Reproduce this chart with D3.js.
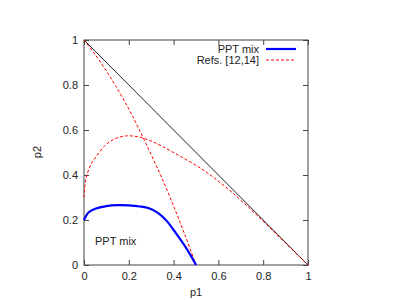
<!DOCTYPE html>
<html>
<head>
<meta charset="utf-8">
<style>
  body { margin: 0; background: white; }
  svg { display: block; font-family: "Liberation Sans", Arial, Helvetica, sans-serif; }
  .tick text { font-size: 11px; fill: #222; }
</style>
<script src="https://cdn.jsdelivr.net/npm/d3@7"></script>
</head>
<body>
<svg id="chart"></svg>
<script>
// values, [p1, p2]
let pptMix = [[0, 0.2], [0.02, 0.233], [0.05, 0.25], [0.1, 0.262], [0.15, 0.266], [0.2, 0.265],
              [0.25, 0.26], [0.29, 0.252], [0.33, 0.232], [0.37, 0.195], [0.41, 0.142],
              [0.45, 0.085], [0.48, 0.036], [0.5, 0]]
let refsA = [[0, 1], [0.05, 0.935], [0.1, 0.862], [0.14, 0.798], [0.2, 0.693], [0.244, 0.607],
             [0.3, 0.49], [0.347, 0.388], [0.4, 0.262], [0.45, 0.135], [0.5, 0]]
let refsB = [[0, 0.3], [0.005, 0.36], [0.013, 0.4], [0.03, 0.445], [0.05, 0.476], [0.095, 0.532],
             [0.14, 0.562], [0.19, 0.574], [0.25, 0.568], [0.3, 0.551], [0.35, 0.527],
             [0.43, 0.483], [0.518, 0.432], [0.577, 0.39], [0.65, 0.332], [0.726, 0.264],
             [0.816, 0.179], [0.9, 0.097], [1, 0]]
let diagonal = [[0, 1], [1, 0]]
let tickValues = [0, 0.2, 0.4, 0.6, 0.8, 1]
let legendLabels = ["PPT mix", "Refs. [12,14]"]

let width = 406, height = 300
let mLeft = 84, mRight = 308, mTop = 40, mBottom = 265

let svg = d3.select("#chart").attr("width", width).attr("height", height)

let x = d3.scaleLinear().domain([0, 1]).range([mLeft, mRight])
let y = d3.scaleLinear().domain([0, 1]).range([mBottom, mTop])
let fmt = d => d === 0 || d === 1 ? String(d) : d3.format(".1f")(d)

// axes with inward ticks
svg.append("g").attr("transform", `translate(0,${mBottom})`)
    .call(d3.axisBottom(x).tickValues(tickValues).tickFormat(fmt).tickSizeInner(-5).tickSizeOuter(0).tickPadding(7))
svg.append("g").attr("transform", `translate(${mLeft},0)`)
    .call(d3.axisLeft(y).tickValues(tickValues).tickFormat(fmt).tickSizeInner(-5).tickSizeOuter(0).tickPadding(6))
svg.append("g").attr("transform", `translate(0,${mTop})`)
    .call(d3.axisTop(x).tickValues(tickValues).tickFormat("").tickSizeInner(-5).tickSizeOuter(0))
svg.append("g").attr("transform", `translate(${mRight},0)`)
    .call(d3.axisRight(y).tickValues(tickValues).tickFormat("").tickSizeInner(-5).tickSizeOuter(0))
svg.selectAll(".domain").remove()
svg.selectAll(".tick line").attr("stroke", "#444")

svg.append("rect")
    .attr("x", mLeft).attr("y", mTop)
    .attr("width", mRight - mLeft).attr("height", mBottom - mTop)
    .attr("fill", "none").attr("stroke", "#444").attr("stroke-width", 1)

let line = d3.line().x(d => x(d[0])).y(d => y(d[1])).curve(d3.curveCatmullRom.alpha(0.5))

svg.append("path").datum(diagonal).attr("d", d3.line().x(d => x(d[0])).y(d => y(d[1])))
    .attr("fill", "none").attr("stroke", "#222").attr("stroke-width", 1)

for (let s of [refsA, refsB]) {
    svg.append("path").datum(s).attr("d", line)
        .attr("fill", "none").attr("stroke", "#ff0000").attr("stroke-width", 1)
        .attr("stroke-dasharray", "3,2")
}

svg.append("path").datum(pptMix).attr("d", line)
    .attr("fill", "none").attr("stroke", "#0000ff").attr("stroke-width", 2.2)

// legend
let legendY = [49, 60]
legendLabels.forEach((t, i) => {
    svg.append("text").attr("x", 259).attr("y", legendY[i] + 4)
        .attr("text-anchor", "end").attr("font-size", 11).attr("fill", "#222").text(t)
    let ln = svg.append("line").attr("x1", 266).attr("x2", 296)
        .attr("y1", legendY[i]).attr("y2", legendY[i])
    if (i == 0) ln.attr("stroke", "#0000ff").attr("stroke-width", 2.2)
    else ln.attr("stroke", "#ff0000").attr("stroke-width", 1).attr("stroke-dasharray", "3,2")
})

svg.append("text").attr("x", 95).attr("y", 245).attr("font-size", 11).attr("fill", "#222").text("PPT mix")

// axis titles
svg.append("text").attr("x", 196).attr("y", 296).attr("text-anchor", "middle")
    .attr("font-size", 11).attr("fill", "#222").text("p1")
svg.append("text").attr("transform", "translate(41,152) rotate(-90)").attr("text-anchor", "middle")
    .attr("font-size", 11).attr("fill", "#222").text("p2")
</script>
</body>
</html>
